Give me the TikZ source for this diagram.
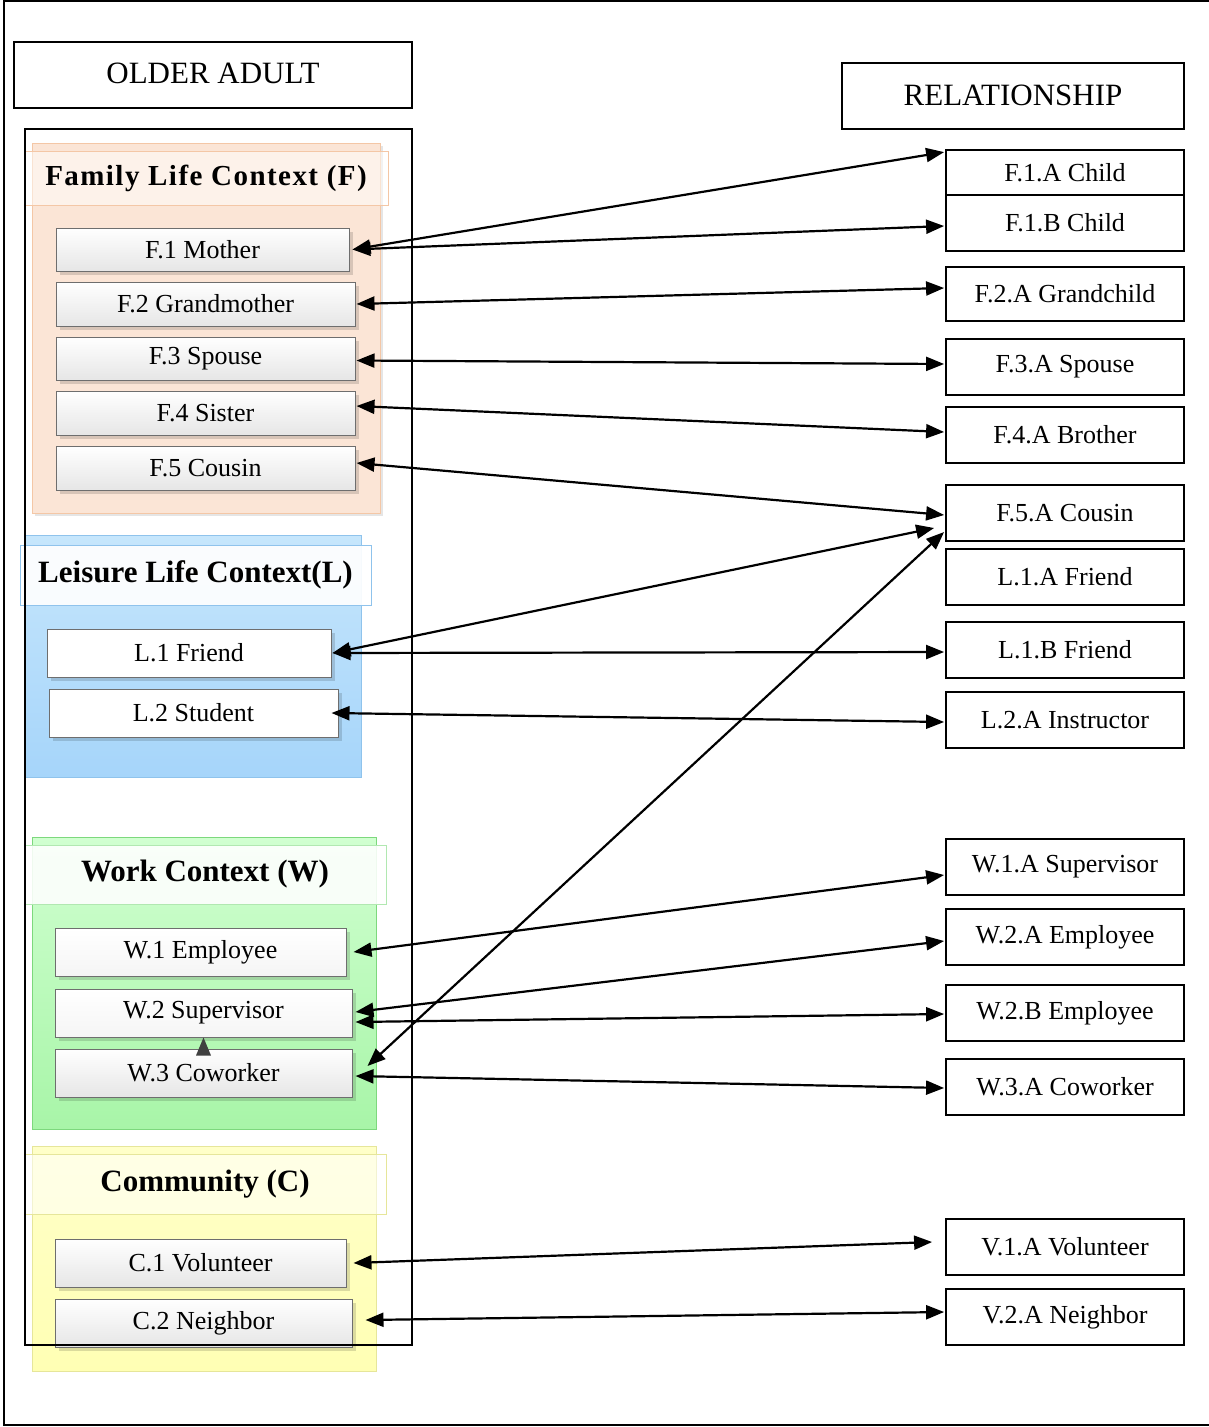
\documentclass[tikz,border=0pt]{standalone}
\usepackage{fontspec}
\setmainfont{Liberation Serif}
\usetikzlibrary{arrows.meta,shadows}

\definecolor{boxgray}{HTML}{6E6E6E}
\definecolor{boxshade}{HTML}{E6E6E6}
\definecolor{famfill}{HTML}{FBE5D6}
\definecolor{famline}{HTML}{F4C7A6}
\definecolor{leitop}{HTML}{C6E6FC}
\definecolor{leibot}{HTML}{A6D5FA}
\definecolor{leiline}{HTML}{8FC3EC}
\definecolor{wortop}{HTML}{D0FFD0}
\definecolor{worbot}{HTML}{A8F5A8}
\definecolor{worline}{HTML}{7DD87D}
\definecolor{comtop}{HTML}{FFFFC8}
\definecolor{combot}{HTML}{FFFFB4}
\definecolor{comline}{HTML}{E6E69A}
\definecolor{tipgray}{HTML}{404040}

\begin{document}
\begin{tikzpicture}[x=1pt,y=-1pt,
  >={Triangle[length=18pt,width=14pt]},
  header/.style={draw, line width=1.8pt, inner sep=0pt,
    font=\fontsize{31}{36}\selectfont},
  relbox/.style={draw, line width=1.8pt, inner sep=0pt, minimum width=238pt,
    minimum height=56pt, font=\fontsize{26}{30}\selectfont},
  itembox/.style={draw=boxgray, line width=1pt, inner sep=0pt,
    top color=white, bottom color=boxshade,
    drop shadow={shadow xshift=4pt, shadow yshift=-4pt, fill=black, opacity=0.14},
    font=\fontsize{26}{30}\selectfont},
  plainitem/.style={itembox, top color=white, bottom color=white},
  groupbg/.style={inner sep=0pt, line width=0.8pt},
  band/.style={inner sep=0pt, line width=0.8pt, fill=white,
    font=\bfseries\fontsize{31}{36}\selectfont},
  link/.style={<->, line width=2.2pt}]

\useasboundingbox (0,0) rectangle (1209,1427);

% outer frame (open on the right)
\draw[line width=1.8pt] (1212,1) -- (4,1) -- (4,1425) -- (1212,1425);

% column headings
\node[header, minimum width=398pt, minimum height=66pt] (older) at (213,75)
  {\raisebox{3pt}{OLDER ADULT}};
\node[header, minimum width=342pt, minimum height=66pt] (rel) at (1013,96)
  {\raisebox{2pt}{RELATIONSHIP}};

% ---------- Family life context ----------
\node[groupbg, draw=famline, fill=famfill, minimum width=348pt, minimum height=370pt,
  drop shadow={shadow xshift=3pt, shadow yshift=-3pt, fill=black, opacity=0.10}] (fbg) at (206,328) {};
\node[band, draw=famline, fill opacity=0.5, text opacity=1, minimum width=364pt,
  minimum height=54pt, font=\bfseries\fontsize{29}{34}\selectfont] (fband) at (206,178)
  {\addfontfeature{LetterSpace=5}\raisebox{-2pt}{Family Life Context (F)}};
\node[itembox, minimum width=293pt, minimum height=43pt] (m1) at (202.5,249.5) {F.1 Mother};
\node[itembox, minimum width=299pt, minimum height=44pt] (m2) at (205.5,304) {F.2 Grandmother};
\node[itembox, minimum width=299pt, minimum height=43pt] (m3) at (205.5,358.5) {F.3 Spouse};
\node[itembox, minimum width=299pt, minimum height=44pt] (m4) at (205.5,413) {F.4 Sister};
\node[itembox, minimum width=299pt, minimum height=44pt] (m5) at (205.5,468) {F.5 Cousin};

% ---------- Leisure life context ----------
\node[groupbg, draw=leiline, top color=leitop, bottom color=leibot,
  minimum width=337pt, minimum height=242pt] (lbg) at (192.5,656) {};
\node[band, draw=leiline, fill opacity=0.92, text opacity=1, minimum width=351pt,
  minimum height=60pt] (lband) at (195.5,575) {\raisebox{-2pt}{Leisure Life Context(L)}};
\node[plainitem, minimum width=284pt, minimum height=48pt] (l1) at (189,653) {L.1 Friend};
\node[plainitem, minimum width=289pt, minimum height=48pt] (l2) at (193.5,713) {L.2 Student};

% ---------- Work context ----------
\node[groupbg, draw=worline, top color=wortop, bottom color=worbot,
  minimum width=344pt, minimum height=292pt] (wbg) at (204,983) {};
\node[band, draw=worline!60, fill opacity=0.88, text opacity=1, minimum width=362pt,
  minimum height=59pt] (wband) at (205,874.5) {\raisebox{-2pt}{Work Context (W)}};
\node[itembox, bottom color=white!60!boxshade, minimum width=291pt, minimum height=48pt] (w1) at (200.5,952) {W.1 Employee};
\node[itembox, bottom color=white!60!boxshade, minimum width=297pt, minimum height=48pt] (w2) at (203.5,1013) {W.2 Supervisor};
\node[itembox, minimum width=297pt, minimum height=48pt] (w3) at (203.5,1073) {W.3 Coworker};
\fill[tipgray] (w2.south) -- ++(-7.5,18) -- ++(15,0) -- cycle;

% ---------- Community ----------
\node[groupbg, draw=comline, top color=comtop, bottom color=combot,
  minimum width=344pt, minimum height=225pt] (cbg) at (204,1258.5) {};
\node[band, draw=comline, fill opacity=0.55, text opacity=1, minimum width=362pt,
  minimum height=60pt] (cband) at (205,1184) {\raisebox{-2pt}{Community (C)}};
\node[itembox, minimum width=291pt, minimum height=48pt] (c1) at (200.5,1263) {C.1 Volunteer};
\node[itembox, minimum width=297pt, minimum height=48pt] (c2) at (203.5,1323) {C.2 Neighbor};

% frame around the older adult's contexts
\draw[line width=1.8pt] (25,129) rectangle (412,1345);

% ---------- relationship boxes ----------
\node[relbox, minimum height=45pt] (f1a) at (1065,172.5) {\raisebox{-3pt}{F.1.A Child}};
\node[relbox] (f1b) at (1065,223) {F.1.B Child};
\node[relbox, minimum height=54pt] (f2a) at (1065,294) {F.2.A Grandchild};
\node[relbox] (f3a) at (1065,367) {F.3.A Spouse};
\node[relbox] (f4a) at (1065,435) {F.4.A Brother};
\node[relbox] (f5a) at (1065,513) {F.5.A Cousin};
\node[relbox] (l1a) at (1065,577) {L.1.A Friend};
\node[relbox] (l1b) at (1065,650) {L.1.B Friend};
\node[relbox] (l2a) at (1065,720) {L.2.A Instructor};
\node[relbox] (w1a) at (1065,867) {W.1.A Supervisor};
\node[relbox] (w2a) at (1065,937) {W.2.A Employee};
\node[relbox] (w2b) at (1065,1013) {W.2.B Employee};
\node[relbox] (w3a) at (1065,1087) {W.3.A Coworker};
\node[relbox] (v1a) at (1065,1247) {V.1.A Volunteer};
\node[relbox] (v2a) at (1065,1317) {V.2.A Neighbor};

% ---------- relationship links ----------
\draw[link] ([xshift=3pt]m1.east) -- ([xshift=-1pt,yshift=-3pt]f1a.north west);
\draw[link] ([xshift=3pt]m1.east) -- ([xshift=-1pt,yshift=-3pt]f1b.west);
\draw[link] ([xshift=1pt]m2.east) -- ([xshift=-1pt,yshift=6pt]f2a.west);
\draw[link] ([xshift=1pt,yshift=-2pt]m3.east) -- ([xshift=-1pt,yshift=3pt]f3a.west);
\draw[link] ([xshift=1pt,yshift=7pt]m4.east) -- ([xshift=-1pt,yshift=3pt]f4a.west);
\draw[link] ([xshift=1pt,yshift=5pt]m5.east) -- ([xshift=-1pt,yshift=-2pt]f5a.west);
\draw[link] ([xshift=1pt]l1.east) -- ([xshift=-11pt,yshift=-15pt]f5a.west);
\draw[link] ([xshift=1pt]l1.east) -- ([xshift=-1pt,yshift=-2pt]l1b.west);
\draw[link] ([xshift=-7pt]l2.east) -- ([xshift=-1pt,yshift=-2pt]l2a.west);
\draw[link] ([xshift=7pt]w1.east) -- ([xshift=-1pt,yshift=-8pt]w1a.west);
\draw[link] ([xshift=3pt,yshift=1pt]w2.east) -- ([xshift=-1pt,yshift=-4pt]w2a.west);
\draw[link] ([xshift=3pt,yshift=-9pt]w2.east) -- ([xshift=-1pt,yshift=-1pt]w2b.west);
\draw[link] ([xshift=15pt,yshift=7pt]w3.east) -- ([xshift=-1pt,yshift=-19pt]f5a.west);
\draw[link] ([xshift=3pt,yshift=-3pt]w3.east) -- ([xshift=-1pt,yshift=-1pt]w3a.west);
\draw[link] ([xshift=7pt]c1.east) -- ([xshift=-13pt,yshift=5pt]v1a.west);
\draw[link] ([xshift=13pt,yshift=3pt]c2.east) -- ([xshift=-1pt,yshift=5pt]v2a.west);

\end{tikzpicture}
\end{document}
